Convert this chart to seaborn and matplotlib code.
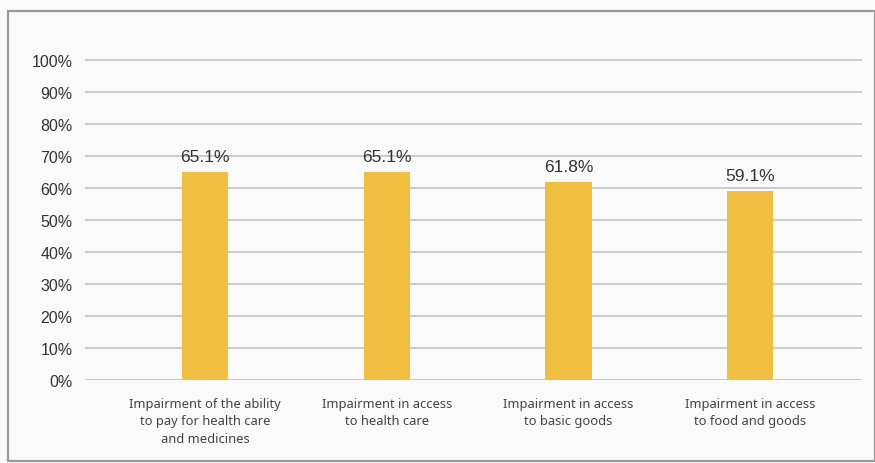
import matplotlib
matplotlib.use("Agg")
import matplotlib.pyplot as plt
import seaborn as sns
import pandas as pd
from matplotlib.patches import Rectangle

# --- data ---
categories = [
    "Impairment of the ability\nto pay for health care\nand medicines",
    "Impairment in access\nto health care",
    "Impairment in access\nto basic goods",
    "Impairment in access\nto food and goods",
]
values = [65.1, 65.1, 61.8, 59.1]
y_ticks = [0, 10, 20, 30, 40, 50, 60, 70, 80, 90, 100]

df = pd.DataFrame({"category": categories, "value": values})

sns.set_theme(style="white")
plt.rcParams["font.family"] = ["Liberation Sans", "DejaVu Sans"]

W, H = 875, 464
fig = plt.figure(figsize=(W / 100, H / 100), dpi=100)
fig.patch.set_facecolor("#fafafa")

# outer frame
fig.add_artist(Rectangle((8 / W, 2 / H), (W - 8) / W, (H - 14) / H,
                         transform=fig.transFigure, fill=False,
                         edgecolor="#999999", linewidth=1.6))

# axes: 0% at y=381px, 100% at y=61px, x from 85 to 862
ymax = 102
px_per = (381 - 61) / 100
top_px = 381 - ymax * px_per
ax = fig.add_axes([85 / W, (H - 381) / H, (862 - 85) / W, (381 - top_px) / H])
ax.set_facecolor("#fafafa")

sns.barplot(data=df, x="category", y="value", color="#f0be41",
            width=0.255, saturation=1, linewidth=0, ax=ax, zorder=3)

step = 181.7
ax.set_xlim((85 - 205) / step, (862 - 205) / step)
ax.set_ylim(0, ymax)
ax.set_yticks(y_ticks)
ax.set_yticklabels([f"{t}%" for t in y_ticks], fontsize=11.5, color="#333333")
ax.yaxis.grid(True, color="#bdbdbd", linewidth=1.1, zorder=0)
ax.set_axisbelow(True)
ax.tick_params(axis="y", length=0, pad=9)
ax.tick_params(axis="x", length=0, pad=12)
for lbl in ax.get_xticklabels():
    lbl.set_fontfamily(["Noto Sans", "DejaVu Sans"])
    lbl.set_fontsize(9.3)
    lbl.set_color("#444444")
    lbl.set_linespacing(1.45)
for s in ax.spines.values():
    s.set_visible(False)
ax.set_xlabel("")
ax.set_ylabel("")

for i, v in enumerate(values):
    ax.text(i, v + 2.5, f"{v:.1f}%", ha="center", va="bottom",
            fontsize=12.5, color="#333333", fontstretch="condensed")

fig.savefig("out.png", dpi=100, facecolor=fig.get_facecolor())
